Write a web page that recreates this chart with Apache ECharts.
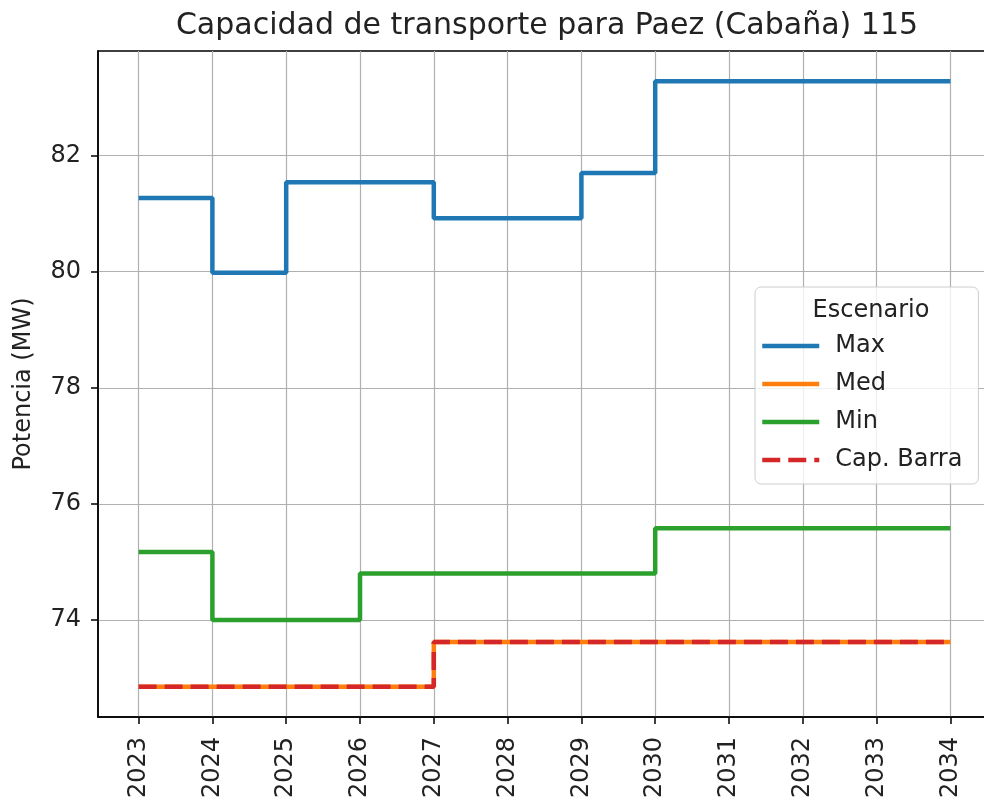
<!DOCTYPE html>
<html>
<head>
<meta charset="utf-8">
<script src="https://cdn.jsdelivr.net/npm/echarts@6/dist/echarts.min.js"></script>
<style>
  html, body { margin: 0; padding: 0; background: #fff; }
  #chart { width: 984px; height: 802px; }
</style>
</head>
<body>
<div id="chart"></div>
<script>
// años (eje x)
var years = [2023, 2024, 2025, 2026, 2027, 2028, 2029, 2030, 2031, 2032, 2033, 2034]
var yTicks = [74, 76, 78, 80, 82]
// escenarios
var maxVals = [81.27, 79.98, 81.54, 81.54, 80.92, 80.92, 81.70, 83.28, 83.28, 83.28, 83.28, 83.28]
var medVals = [72.85, 72.85, 72.85, 72.85, 73.62, 73.62, 73.62, 73.62, 73.62, 73.62, 73.62, 73.62]
var minVals = [75.17, 74.00, 74.00, 74.80, 74.80, 74.80, 74.80, 75.58, 75.58, 75.58, 75.58, 75.58]
var capVals = [72.85, 72.85, 72.85, 72.85, 73.62, 73.62, 73.62, 73.62, 73.62, 73.62, 73.62, 73.62]

function pairs(vals) {
  return years.map(function (y, i) { return [y, vals[i]] })
}

var font = 'DejaVu Sans'
var chart = echarts.init(document.getElementById('chart'))

chart.setOption({
  animation: false,
  textStyle: { fontFamily: font },
  title: [
    {
      text: 'Capacidad de transporte para Paez (Cabaña) 115',
      left: 542, top: 6, textAlign: 'center',
      textStyle: { fontFamily: font, fontSize: 30, fontWeight: 'normal', color: '#222' }
    },
    {
      text: 'Escenario',
      left: 866, top: 294, textAlign: 'center',
      textStyle: { fontFamily: font, fontSize: 24, fontWeight: 'normal', color: '#222' }
    }
  ],
  grid: {
    left: 98, width: 893, top: 51, height: 666,
    outerBoundsMode: 'none',
    show: true, borderColor: '#000', borderWidth: 1.5
  },
  legend: {
    orient: 'vertical',
    left: 755, top: 287,
    padding: [47, 16, 12, 5],
    itemWidth: 57, itemHeight: 14, itemGap: 14,
    backgroundColor: 'rgba(255,255,255,0.8)',
    borderColor: '#cccccc', borderWidth: 1, borderRadius: 6,
    itemStyle: { opacity: 0 },
    lineStyle: { width: 4.5 },
    textStyle: { fontFamily: font, fontSize: 24, color: '#222', lineHeight: 24, padding: [0, 0, 0, 11] },
    data: ['Max', 'Med', 'Min', 'Cap. Barra']
  },
  xAxis: {
    type: 'value',
    min: 2022.45, max: 2034.55,
    axisLine: { show: true, lineStyle: { color: '#000', width: 1.5 } },
    axisTick: { show: true, length: 7, lineStyle: { color: '#000', width: 1.5 }, customValues: years },
    axisLabel: {
      customValues: years, rotate: 90, margin: 20, fontSize: 24, color: '#222', fontFamily: font,
      formatter: function (v) { return String(v) }
    },
    splitLine: { show: true, lineStyle: { color: '#b0b0b0', width: 1.2 } }
  },
  yAxis: {
    type: 'value',
    min: 72.33, max: 83.80,
    name: 'Potencia (MW)',
    nameLocation: 'middle', nameGap: 62, nameRotate: 90,
    nameTextStyle: { fontFamily: font, fontSize: 24, color: '#222' },
    axisLine: { show: true, lineStyle: { color: '#000', width: 1.5 } },
    axisTick: { show: true, length: 7, lineStyle: { color: '#000', width: 1.5 }, customValues: yTicks },
    axisLabel: { customValues: yTicks, margin: 17, fontSize: 24, color: '#222', fontFamily: font },
    splitLine: { show: true, lineStyle: { color: '#b0b0b0', width: 1.2 } }
  },
  series: [
    {
      name: 'Max', type: 'line', step: 'end', symbol: 'none',
      data: pairs(maxVals),
      itemStyle: { color: '#1f77b4' },
      lineStyle: { color: '#1f77b4', width: 4.5 }
    },
    {
      name: 'Med', type: 'line', step: 'end', symbol: 'none',
      data: pairs(medVals),
      itemStyle: { color: '#ff7f0e' },
      lineStyle: { color: '#ff7f0e', width: 4.5 }
    },
    {
      name: 'Min', type: 'line', step: 'end', symbol: 'none',
      data: pairs(minVals),
      itemStyle: { color: '#2ca02c' },
      lineStyle: { color: '#2ca02c', width: 4.5 }
    },
    {
      name: 'Cap. Barra', type: 'line', step: 'end', symbol: 'none',
      data: pairs(capVals),
      itemStyle: { color: '#d62728' },
      lineStyle: { color: '#d62728', width: 4.5, type: [18, 8] }
    }
  ]
})
</script>
</body>
</html>
